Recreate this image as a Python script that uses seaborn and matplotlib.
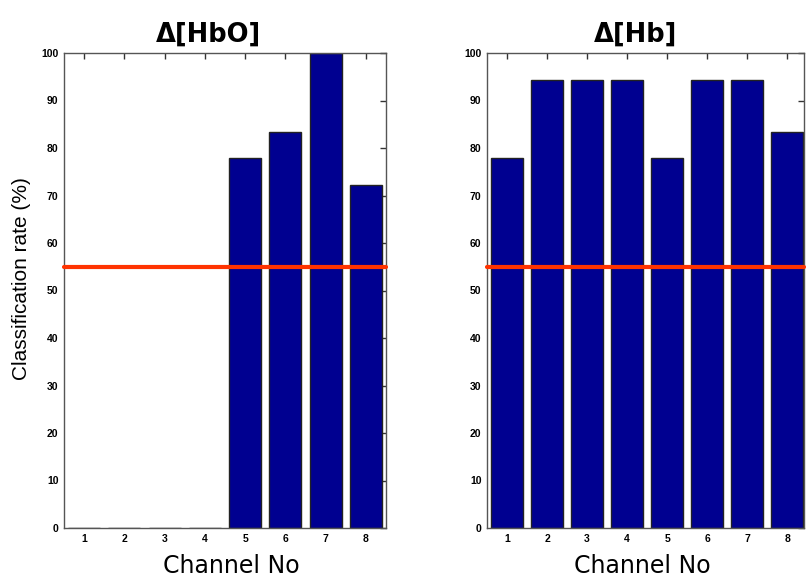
import matplotlib
matplotlib.use('Agg')
import matplotlib.pyplot as plt
import seaborn as sns
import pandas as pd

########### DATA ##################################
channels = [1, 2, 3, 4, 5, 6, 7, 8]
hbo_rate = [0, 0, 0, 0, 77.8, 83.3, 100, 72.2]
hb_rate = [77.8, 94.4, 94.4, 94.4, 77.8, 94.4, 94.4, 83.3]
chance_level = 55
titles = ['Δ[HbO]', 'Δ[Hb]']
yticks = [0, 10, 20, 30, 40, 50, 60, 70, 80, 90, 100]

sns.set_style('white')
plt.rcParams['font.family'] = ['Liberation Sans', 'DejaVu Sans']
plt.rcParams['text.color'] = 'black'
plt.rcParams['xtick.color'] = 'black'
plt.rcParams['ytick.color'] = 'black'

fig = plt.figure(figsize=(8.08, 5.78), dpi=100)
ax1 = fig.add_axes([64/808, 1-528/578, 322/808, 475/578])
ax2 = fig.add_axes([487/808, 1-528/578, 317/808, 475/578])

# x limit, title x pos, xlabel x pos (axes fraction)
setup = [(ax1, hbo_rate, titles[0], 8.5, 0.45, 0.52),
         (ax2, hb_rate, titles[1], 8.42, 0.47, 0.49)]

for ax, vals, title, xmax, tx, lx in setup:
    df = pd.DataFrame({'channel': channels, 'rate': vals})
    sns.barplot(data=df, x='channel', y='rate', native_scale=True, color='#000090',
                saturation=1, edgecolor='#222222', linewidth=1.0, width=0.8, ax=ax)
    ax.axhline(chance_level, color='#ff3300', linewidth=3, zorder=5, clip_on=False)
    ax.set_xlim(0.5, xmax)
    ax.set_ylim(0, 100)
    ax.set_xticks(channels)
    ax.set_yticks(yticks)
    ax.set_xticklabels([str(c) for c in channels], fontsize=7.5, fontweight='heavy')
    ax.set_yticklabels([str(t) for t in yticks], fontsize=7.5, fontweight='heavy')
    ax.tick_params(direction='in', length=4, width=1, top=True, right=True, pad=4, color='#333333')
    for sp in ax.spines.values():
        sp.set_color('#555555')
        sp.set_linewidth(1)
    ax.set_xlabel('')
    ax.set_ylabel('')
    ax.text(tx, (528-42)/475, title, transform=ax.transAxes, ha='center', va='baseline',
            fontsize=18.5, fontweight='bold', family='DejaVu Sans')
    ax.text(lx, -(573-528)/475, 'Channel No', transform=ax.transAxes, ha='center', va='baseline',
            fontsize=17, family='DejaVu Sans')

fig.text(22/808, 1-279/578, 'Classification rate (%)', rotation=90, ha='center', va='center', fontsize=15)

plt.savefig('out.png', dpi=100)
